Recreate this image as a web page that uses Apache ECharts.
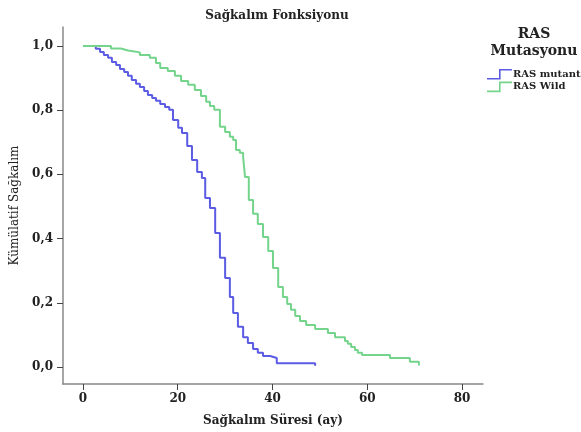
<!DOCTYPE html>
<html>
<head>
<meta charset="utf-8">
<script src="https://cdn.jsdelivr.net/npm/echarts@6/dist/echarts.min.js"></script>
<style>html,body{margin:0;padding:0;background:#fff}#c{width:581px;height:432px}</style>
</head>
<body>
<div id="c"></div>
<script>
// Kaplan-Meier step data: time (months) and survival after each drop
const mutantTimes = [0, 2.7, 3.6, 4.4, 5.3, 6.1, 7.0, 7.8, 8.7, 9.5, 10.3, 11.2, 12.0, 12.9, 13.7, 14.6, 15.4, 16.3, 17.3, 18.2, 19.0, 20.1, 20.9, 22.0, 23.0, 24.1, 25.1, 25.8, 26.8, 27.9, 28.9, 30.0, 31.0, 31.7, 32.7, 33.8, 34.8, 35.9, 36.9, 38.0, 39.5, 40.9, 49.0];
const mutantSurv  = [1.0, 0.991, 0.981, 0.972, 0.963, 0.950, 0.941, 0.928, 0.919, 0.907, 0.894, 0.882, 0.872, 0.860, 0.847, 0.838, 0.829, 0.819, 0.810, 0.801, 0.769, 0.745, 0.729, 0.688, 0.645, 0.607, 0.589, 0.526, 0.495, 0.417, 0.340, 0.277, 0.218, 0.168, 0.125, 0.093, 0.075, 0.056, 0.044, 0.034, 0.028, 0.012, 0.004];
const wildTimes = [0, 5.9, 8.0, 9.5, 12.0, 14.1, 15.4, 16.3, 17.9, 19.4, 20.7, 22.2, 23.6, 24.9, 26.0, 26.8, 27.7, 28.9, 30.0, 31.0, 31.7, 32.3, 33.1, 33.8, 34.2, 35.0, 35.9, 36.9, 38.0, 39.1, 40.1, 41.2, 42.2, 43.1, 43.9, 44.8, 45.8, 47.1, 49.0, 51.7, 53.2, 55.3, 55.9, 56.6, 57.4, 58.0, 58.9, 64.8, 69.0, 70.9];
const wildSurv  = [1.0, 0.992, 0.986, 0.980, 0.972, 0.963, 0.947, 0.931, 0.922, 0.907, 0.891, 0.879, 0.863, 0.844, 0.826, 0.813, 0.801, 0.748, 0.732, 0.717, 0.707, 0.676, 0.667, 0.654, 0.592, 0.520, 0.477, 0.445, 0.405, 0.361, 0.308, 0.249, 0.218, 0.196, 0.178, 0.159, 0.143, 0.131, 0.118, 0.106, 0.093, 0.081, 0.072, 0.062, 0.053, 0.044, 0.037, 0.028, 0.016, 0.005];
const xTicks = [0, 20, 40, 60, 80];
const yTicks = [0, 0.2, 0.4, 0.6, 0.8, 1.0];
const seriesNames = ['RAS mutant', 'RAS Wild'];

const pair = (t, s) => t.map((v, i) => [v, s[i]]);
const SERIF = '"DejaVu Serif", serif';
const stepIcon = 'path://M0,9 L12,9 L12,0 L25,0 L25,1.6 L13.6,1.6 L13.6,10.6 L0,10.6 Z';

const chart = echarts.init(document.getElementById('c'), null, {renderer: 'canvas'});
chart.setOption({
  animation: false,
  backgroundColor: '#fff',
  title: {
    text: 'Sağkalım Fonksiyonu',
    left: 272, top: 5, textAlign: 'center',
    textStyle: {fontFamily: SERIF, fontSize: 12, fontWeight: 'bold', color: '#222'}
  },
  graphic: [
    {type: 'text', x: 534, y: 27, style: {text: 'RAS', font: 'bold 14px ' + SERIF, fill: '#222', align: 'center'}},
    {type: 'text', x: 534, y: 44, style: {text: 'Mutasyonu', font: 'bold 14px ' + SERIF, fill: '#222', align: 'center'}}
  ],
  legend: {
    orient: 'vertical', left: 487, top: 69, itemWidth: 25, itemHeight: 11, itemGap: 2, padding: 0,
    data: seriesNames.map(n => ({name: n, icon: stepIcon})),
    textStyle: {fontFamily: SERIF, fontSize: 10, fontWeight: 'bold', color: '#222', padding: [0, 0, 0, -4]}
  },
  grid: {left: 63, right: 98, top: 27, bottom: 48},
  xAxis: {
    type: 'value', min: -4.22, max: 84.43,
    name: 'Sağkalım Süresi (ay)', nameLocation: 'middle', nameGap: 31,
    nameTextStyle: {fontFamily: SERIF, fontSize: 12, fontWeight: 'bold', color: '#222'},
    axisLine: {show: true, onZero: false, lineStyle: {color: '#888', width: 1.5}},
    axisTick: {show: true, customValues: xTicks, length: 6, lineStyle: {color: '#444'}},
    axisLabel: {customValues: xTicks, margin: 9, fontFamily: SERIF, fontSize: 12, fontWeight: 'bold', color: '#222'},
    splitLine: {show: false}
  },
  yAxis: {
    type: 'value', min: -0.053, max: 1.059,
    name: 'Kümülatif Sağkalım', nameLocation: 'middle', nameGap: 42, nameRotate: 90,
    nameTextStyle: {fontFamily: SERIF, fontSize: 12, color: '#222'},
    axisLine: {show: true, onZero: false, lineStyle: {color: '#888', width: 1.5}},
    axisTick: {show: true, customValues: yTicks, length: 6, lineStyle: {color: '#444'}},
    axisLabel: {customValues: yTicks, margin: 10, fontFamily: SERIF, fontSize: 12, fontWeight: 'bold', color: '#222',
      formatter: v => v.toFixed(1).replace('.', ',')},
    splitLine: {show: false}
  },
  series: [
    {name: seriesNames[0], type: 'line', step: 'end', showSymbol: false, symbol: 'none',
      data: pair(mutantTimes, mutantSurv), color: '#5b5be4', lineStyle: {width: 2, color: '#5b5be4'}},
    {name: seriesNames[1], type: 'line', step: 'end', showSymbol: false, symbol: 'none',
      data: pair(wildTimes, wildSurv), color: '#74d48c', lineStyle: {width: 2, color: '#74d48c'}}
  ]
});
</script>
</body>
</html>
